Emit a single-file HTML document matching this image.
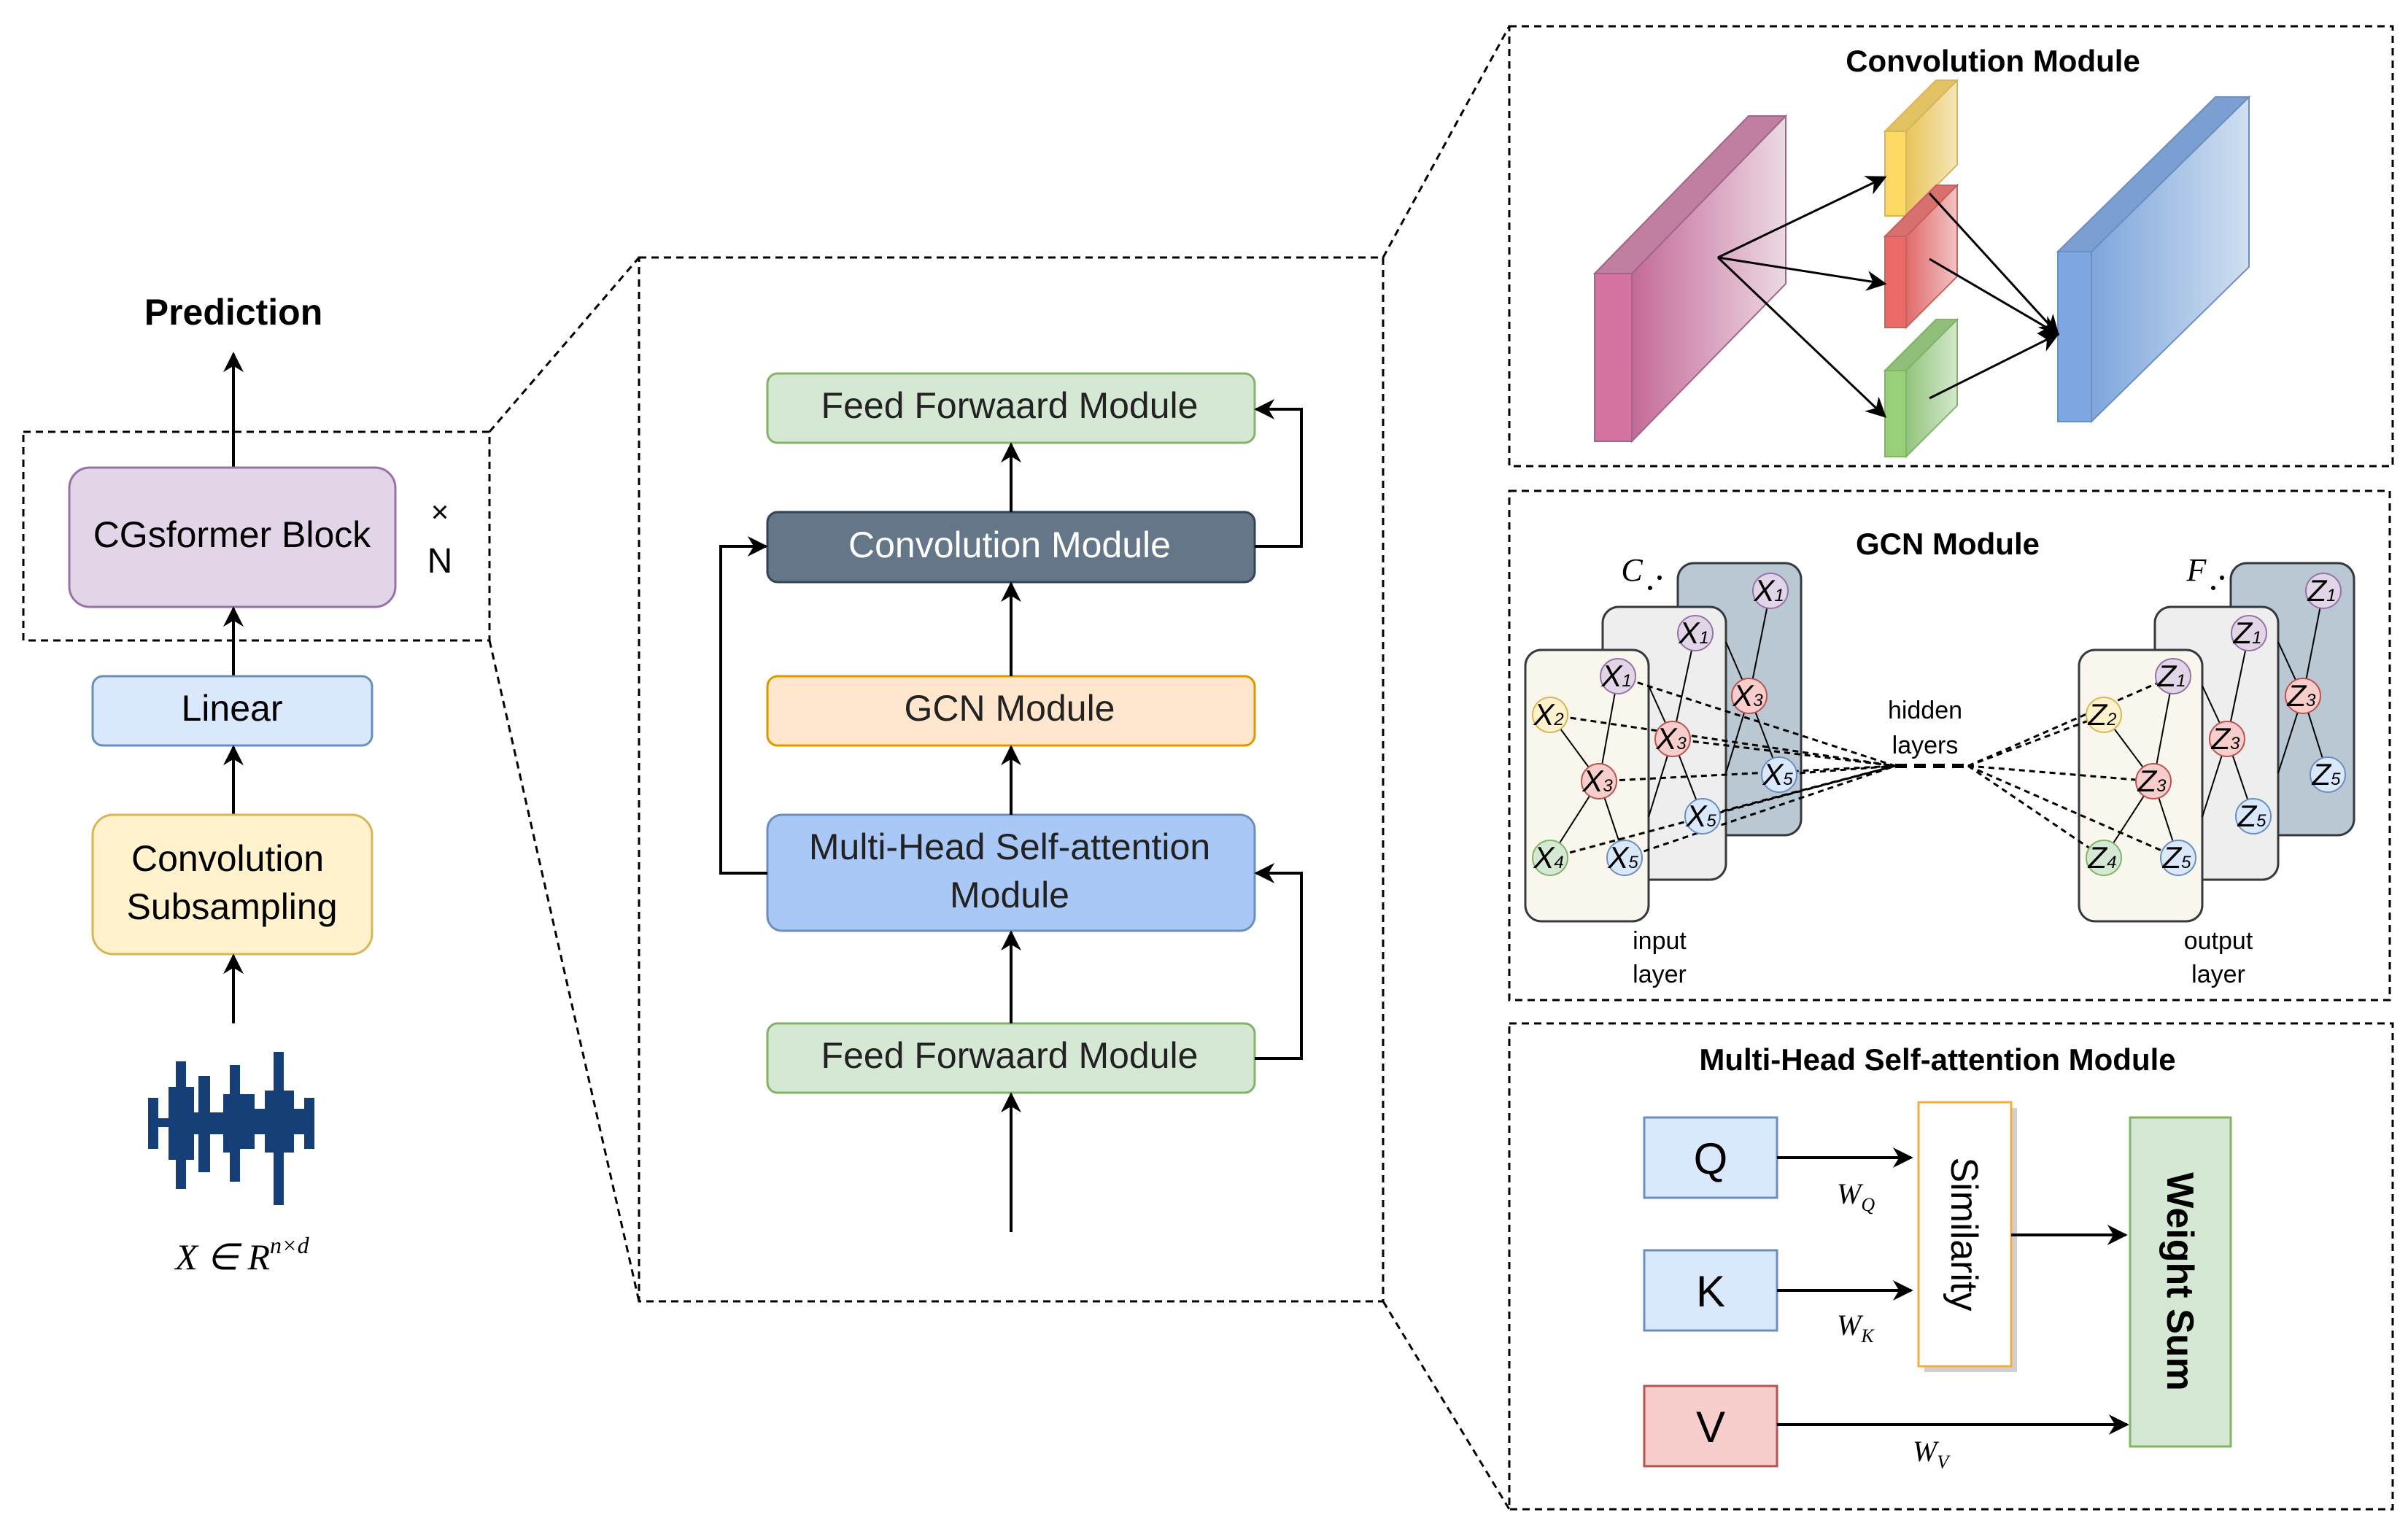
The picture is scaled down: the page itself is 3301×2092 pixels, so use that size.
<!DOCTYPE html>
<html><head><meta charset="utf-8"><style>
html,body{margin:0;padding:0;background:#fff;}
svg{display:block;}
text{font-family:"Liberation Sans",sans-serif;}
.m{font-family:"Liberation Serif",serif;font-style:italic;}
</style></head><body>
<svg width="3301" height="2092" viewBox="0 0 3301 2092" xmlns="http://www.w3.org/2000/svg">
<defs>
<marker id="b" viewBox="0 0 10 10" refX="9" refY="5" markerWidth="28" markerHeight="28" markerUnits="userSpaceOnUse" orient="auto"><path d="M0,0 L10,5 L0,10 L3,5 z" fill="#000"/></marker>
<linearGradient id="gp" x1="0" x2="1"><stop offset="0" stop-color="#c46a98"/><stop offset="1" stop-color="#ecd9e3"/></linearGradient>
<linearGradient id="gy" x1="0" x2="1"><stop offset="0" stop-color="#e8c45a"/><stop offset="1" stop-color="#f5e6b8"/></linearGradient>
<linearGradient id="gr" x1="0" x2="1"><stop offset="0" stop-color="#e06a6a"/><stop offset="1" stop-color="#f2c4c4"/></linearGradient>
<linearGradient id="gg" x1="0" x2="1"><stop offset="0" stop-color="#93c47d"/><stop offset="1" stop-color="#d3e8cc"/></linearGradient>
<linearGradient id="gb" x1="0" x2="1"><stop offset="0" stop-color="#7ea6dc"/><stop offset="1" stop-color="#d0dff0"/></linearGradient>
</defs>

<text x="320" y="445" font-size="50" font-weight="bold" text-anchor="middle">Prediction</text>
<line x1="320" y1="641" x2="320" y2="485" stroke="#000" stroke-width="4" marker-end="url(#b)"/>
<rect x="32" y="592" width="639" height="286" fill="none" stroke="#000" stroke-width="3" stroke-dasharray="10,7"/>
<rect x="95" y="641" width="447" height="191" rx="28" fill="#e1d5e7" stroke="#9673a6" stroke-width="3"/>
<text x="318" y="750" font-size="50" text-anchor="middle">CGsformer Block</text>
<text x="603" y="716" font-size="42" text-anchor="middle">×</text>
<text x="603" y="785" font-size="48" text-anchor="middle">N</text>
<line x1="320" y1="927" x2="320" y2="834" stroke="#000" stroke-width="4" marker-end="url(#b)"/>
<rect x="127" y="927" width="383" height="95" rx="14" fill="#dae8fc" stroke="#6c8ebf" stroke-width="3"/>
<text x="318" y="988" font-size="50" text-anchor="middle">Linear</text>
<line x1="320" y1="1117" x2="320" y2="1024" stroke="#000" stroke-width="4" marker-end="url(#b)"/>
<rect x="127" y="1117" width="383" height="191" rx="28" fill="#fff2cc" stroke="#d6b656" stroke-width="3"/>
<text x="312" y="1194" font-size="50" text-anchor="middle">Convolution</text>
<text x="318" y="1260" font-size="50" text-anchor="middle">Subsampling</text>
<line x1="320" y1="1403" x2="320" y2="1310" stroke="#000" stroke-width="4" marker-end="url(#b)"/>
<g fill="#163f78">
<rect x="203" y="1505" width="14" height="70"/><rect x="217" y="1533" width="14" height="12"/>
<rect x="231" y="1490" width="14" height="100"/><rect x="241" y="1455" width="14" height="175"/><rect x="252" y="1490" width="14" height="100"/>
<rect x="266" y="1525" width="14" height="30"/><rect x="272" y="1475" width="16" height="132"/><rect x="288" y="1525" width="18" height="30"/>
<rect x="306" y="1500" width="14" height="80"/><rect x="315" y="1460" width="14" height="160"/><rect x="329" y="1500" width="20" height="75"/>
<rect x="349" y="1520" width="14" height="35"/><rect x="363" y="1495" width="18" height="85"/><rect x="375" y="1442" width="14" height="210"/><rect x="389" y="1495" width="14" height="85"/>
<rect x="403" y="1520" width="14" height="35"/><rect x="417" y="1505" width="14" height="70"/>
</g>
<text x="332" y="1740" font-size="50" text-anchor="middle" class="m">X ∈ R<tspan font-size="32" dy="-22">n×d</tspan></text>

<line x1="671" y1="592" x2="876" y2="353" stroke="#000" stroke-width="3" stroke-dasharray="10,7"/>
<line x1="671" y1="878" x2="876" y2="1784" stroke="#000" stroke-width="3" stroke-dasharray="10,7"/>
<rect x="876" y="353" width="1020" height="1431" fill="none" stroke="#000" stroke-width="3" stroke-dasharray="10,7"/>
<line x1="1896" y1="353" x2="2069" y2="36" stroke="#000" stroke-width="3" stroke-dasharray="10,7"/>
<line x1="1896" y1="1784" x2="2069" y2="2069" stroke="#000" stroke-width="3" stroke-dasharray="10,7"/>

<rect x="1052" y="512" width="668" height="95" rx="14" fill="#d5e8d4" stroke="#82b366" stroke-width="3"/>
<text x="1384" y="573" font-size="50" text-anchor="middle" fill="#222">Feed Forwaard Module</text>
<rect x="1052" y="702" width="668" height="96" rx="14" fill="#647687" stroke="#314354" stroke-width="3"/>
<text x="1384" y="764" font-size="50" text-anchor="middle" fill="#fff">Convolution Module</text>
<rect x="1052" y="927" width="668" height="95" rx="14" fill="#ffe6cc" stroke="#d79b00" stroke-width="3"/>
<text x="1384" y="988" font-size="50" text-anchor="middle" fill="#222">GCN Module</text>
<rect x="1052" y="1117" width="668" height="159" rx="20" fill="#a9c8f5" stroke="#6c8ebf" stroke-width="3"/>
<text x="1384" y="1178" font-size="50" text-anchor="middle" fill="#222">Multi-Head Self-attention</text>
<text x="1384" y="1244" font-size="50" text-anchor="middle" fill="#222">Module</text>
<rect x="1052" y="1403" width="668" height="95" rx="14" fill="#d5e8d4" stroke="#82b366" stroke-width="3"/>
<text x="1384" y="1464" font-size="50" text-anchor="middle" fill="#222">Feed Forwaard Module</text>
<g stroke="#000" stroke-width="4" fill="none">
<line x1="1386" y1="1689" x2="1386" y2="1500" marker-end="url(#b)"/>
<line x1="1386" y1="1403" x2="1386" y2="1278" marker-end="url(#b)"/>
<line x1="1386" y1="1117" x2="1386" y2="1024" marker-end="url(#b)"/>
<line x1="1386" y1="927" x2="1386" y2="800" marker-end="url(#b)"/>
<line x1="1386" y1="702" x2="1386" y2="609" marker-end="url(#b)"/>
<polyline points="1720,1451 1784,1451 1784,1197 1722,1197" marker-end="url(#b)"/>
<polyline points="1720,749 1784,749 1784,561 1722,561" marker-end="url(#b)"/>
<polyline points="1052,1197 988,1197 988,749 1050,749" marker-end="url(#b)"/>
</g>

<g fill="none" stroke="#000" stroke-width="3" stroke-dasharray="10,7">
<rect x="2069" y="36" width="1211" height="603"/>
<rect x="2069" y="673" width="1207" height="698"/>
<rect x="2069" y="1403" width="1211" height="666"/>
</g>

<text x="2732" y="98" font-size="42" font-weight="bold" text-anchor="middle">Convolution Module</text>
<g stroke-width="2">
<polygon points="2237,375 2448,159 2448,389 2237,605" fill="url(#gp)" stroke="#a0658a"/>
<polygon points="2186,375 2397,159 2448,159 2237,375" fill="#c07fa0" stroke="#a0658a"/>
<rect x="2186" y="375" width="51" height="230" fill="#d4739f" stroke="#a0658a"/>
<polygon points="2613,180 2683,110 2683,226 2613,296" fill="url(#gy)" stroke="#d6b656"/>
<polygon points="2584,180 2654,110 2683,110 2613,180" fill="#e3c264" stroke="#d6b656"/>
<rect x="2584" y="180" width="29" height="116" fill="#ffd966" stroke="#d6b656"/>
<polygon points="2613,324 2683,254 2683,379 2613,449" fill="url(#gr)" stroke="#c86060"/>
<polygon points="2584,324 2654,254 2683,254 2613,324" fill="#d97070" stroke="#c86060"/>
<rect x="2584" y="324" width="29" height="125" fill="#ea6b66" stroke="#c86060"/>
<polygon points="2613,508 2683,438 2683,556 2613,626" fill="url(#gg)" stroke="#82b366"/>
<polygon points="2584,508 2654,438 2683,438 2613,508" fill="#8fbf78" stroke="#82b366"/>
<rect x="2584" y="508" width="29" height="118" fill="#97d077" stroke="#82b366"/>
<polygon points="2867,345 3083,133 3083,366 2867,578" fill="url(#gb)" stroke="#6c8ebf"/>
<polygon points="2821,345 3037,133 3083,133 2867,345" fill="#7a9fd0" stroke="#6c8ebf"/>
<rect x="2821" y="345" width="46" height="233" fill="#7ea6e0" stroke="#6c8ebf"/>
</g>
<g stroke="#000" stroke-width="3">
<line x1="2355" y1="353" x2="2584" y2="243" marker-end="url(#b)"/>
<line x1="2355" y1="353" x2="2584" y2="389" marker-end="url(#b)"/>
<line x1="2355" y1="353" x2="2584" y2="571" marker-end="url(#b)"/>
<line x1="2645" y1="265" x2="2821" y2="458" marker-end="url(#b)"/>
<line x1="2645" y1="355" x2="2821" y2="458" marker-end="url(#b)"/>
<line x1="2645" y1="546" x2="2821" y2="458" marker-end="url(#b)"/>
</g>

<text x="2670" y="760" font-size="42" font-weight="bold" text-anchor="middle">GCN Module</text>
<text x="2237" y="796" font-size="44" class="m" text-anchor="middle">C</text>
<text x="3011" y="796" font-size="44" class="m" text-anchor="middle">F</text>
<g fill="#000"><circle cx="2275" cy="792" r="3"/><circle cx="2262" cy="806" r="3"/><circle cx="3046" cy="792" r="3"/><circle cx="3034" cy="806" r="3"/></g>
<g stroke="#36393d" stroke-width="3">
<rect x="2300" y="772" width="169" height="373" rx="22" fill="#bac8d3"/>
<rect x="2197" y="832" width="169" height="374" rx="22" fill="#eeeeee"/>
<rect x="2091" y="891" width="169" height="372" rx="22" fill="#f9f7ed"/>
<rect x="3058" y="772" width="169" height="373" rx="22" fill="#bac8d3"/>
<rect x="2954" y="832" width="169" height="374" rx="22" fill="#eeeeee"/>
<rect x="2850" y="891" width="169" height="372" rx="22" fill="#f9f7ed"/>
</g>
<g stroke="#000" stroke-width="2">
<line x1="2427" y1="810" x2="2398" y2="954"/><line x1="2398" y1="954" x2="2439" y2="1062"/><line x1="2398" y1="954" x2="2366" y2="1060"/><line x1="2398" y1="954" x2="2366" y2="880"/>
<line x1="2324" y1="868" x2="2293" y2="1013"/><line x1="2293" y1="1013" x2="2334" y2="1119"/><line x1="2293" y1="1013" x2="2260" y2="1120"/><line x1="2293" y1="1013" x2="2260" y2="940"/>
<line x1="2218" y1="927" x2="2192" y2="1071"/><line x1="2125" y1="980" x2="2192" y2="1071"/><line x1="2192" y1="1071" x2="2125" y2="1176"/><line x1="2192" y1="1071" x2="2227" y2="1176"/>
<line x1="3185" y1="810" x2="3157" y2="954"/><line x1="3157" y1="954" x2="3191" y2="1062"/><line x1="3157" y1="954" x2="3123" y2="1060"/><line x1="3157" y1="954" x2="3123" y2="880"/>
<line x1="3083" y1="868" x2="3053" y2="1013"/><line x1="3053" y1="1013" x2="3089" y2="1119"/><line x1="3053" y1="1013" x2="3019" y2="1120"/><line x1="3053" y1="1013" x2="3019" y2="940"/>
<line x1="2979" y1="927" x2="2952" y2="1071"/><line x1="2884" y1="980" x2="2952" y2="1071"/><line x1="2952" y1="1071" x2="2884" y2="1176"/><line x1="2952" y1="1071" x2="2986" y2="1176"/>
</g>
<g stroke="#000" stroke-width="3" stroke-dasharray="8,6" fill="none">
<line x1="2218" y1="927" x2="2598" y2="1050"/><line x1="2125" y1="980" x2="2598" y2="1050"/><line x1="2192" y1="1071" x2="2598" y2="1050"/>
<line x1="2125" y1="1176" x2="2598" y2="1050"/><line x1="2227" y1="1176" x2="2598" y2="1050"/><line x1="2293" y1="1013" x2="2598" y2="1050"/>
<line x1="2334" y1="1119" x2="2598" y2="1050"/><line x1="2439" y1="1062" x2="2598" y2="1050"/>
<line x1="2698" y1="1050" x2="2979" y2="927"/><line x1="2698" y1="1050" x2="2884" y2="980"/><line x1="2698" y1="1050" x2="2952" y2="1071"/>
<line x1="2698" y1="1050" x2="2884" y2="1176"/><line x1="2698" y1="1050" x2="2986" y2="1176"/>
</g>
<line x1="2598" y1="1050" x2="2698" y2="1050" stroke="#000" stroke-width="6" stroke-dasharray="16,10"/>
<text x="2639" y="985" font-size="34" text-anchor="middle">hidden</text>
<text x="2639" y="1033" font-size="34" text-anchor="middle">layers</text>
<text x="2275" y="1301" font-size="34" text-anchor="middle">input</text>
<text x="2275" y="1347" font-size="34" text-anchor="middle">layer</text>
<text x="3041" y="1301" font-size="34" text-anchor="middle">output</text>
<text x="3041" y="1347" font-size="34" text-anchor="middle">layer</text>
<g stroke-width="2">
<g stroke="#9673a6" fill="#e1d5e7"><circle cx="2427" cy="810" r="24"/><circle cx="2324" cy="868" r="24"/><circle cx="2218" cy="927" r="24"/><circle cx="3185" cy="810" r="24"/><circle cx="3083" cy="868" r="24"/><circle cx="2979" cy="927" r="24"/></g>
<g stroke="#d6b656" fill="#fff2cc"><circle cx="2125" cy="980" r="24"/><circle cx="2884" cy="980" r="24"/></g>
<g stroke="#b85450" fill="#f8cecc"><circle cx="2398" cy="954" r="24"/><circle cx="2293" cy="1013" r="24"/><circle cx="2192" cy="1071" r="24"/><circle cx="3157" cy="954" r="24"/><circle cx="3053" cy="1013" r="24"/><circle cx="2952" cy="1071" r="24"/></g>
<g stroke="#82b366" fill="#d5e8d4"><circle cx="2125" cy="1176" r="24"/><circle cx="2884" cy="1176" r="24"/></g>
<g stroke="#6c8ebf" fill="#dae8fc"><circle cx="2439" cy="1062" r="24"/><circle cx="2334" cy="1119" r="24"/><circle cx="2227" cy="1176" r="24"/><circle cx="3191" cy="1062" r="24"/><circle cx="3089" cy="1119" r="24"/><circle cx="2986" cy="1176" r="24"/></g>
</g>
<g class="m" font-size="42" text-anchor="middle">
<text x="2425" y="824">X<tspan font-size="24">1</tspan></text><text x="2322" y="882">X<tspan font-size="24">1</tspan></text><text x="2216" y="941">X<tspan font-size="24">1</tspan></text>
<text x="2123" y="994">X<tspan font-size="24">2</tspan></text>
<text x="2396" y="968">X<tspan font-size="24">3</tspan></text><text x="2291" y="1027">X<tspan font-size="24">3</tspan></text><text x="2190" y="1085">X<tspan font-size="24">3</tspan></text>
<text x="2123" y="1190">X<tspan font-size="24">4</tspan></text>
<text x="2437" y="1076">X<tspan font-size="24">5</tspan></text><text x="2332" y="1133">X<tspan font-size="24">5</tspan></text><text x="2225" y="1190">X<tspan font-size="24">5</tspan></text>
<text x="3183" y="824">Z<tspan font-size="24">1</tspan></text><text x="3081" y="882">Z<tspan font-size="24">1</tspan></text><text x="2977" y="941">Z<tspan font-size="24">1</tspan></text>
<text x="2882" y="994">Z<tspan font-size="24">2</tspan></text>
<text x="3155" y="968">Z<tspan font-size="24">3</tspan></text><text x="3051" y="1027">Z<tspan font-size="24">3</tspan></text><text x="2950" y="1085">Z<tspan font-size="24">3</tspan></text>
<text x="2882" y="1190">Z<tspan font-size="24">4</tspan></text>
<text x="3189" y="1076">Z<tspan font-size="24">5</tspan></text><text x="3087" y="1133">Z<tspan font-size="24">5</tspan></text><text x="2984" y="1190">Z<tspan font-size="24">5</tspan></text>
</g>

<text x="2656" y="1467" font-size="42" font-weight="bold" text-anchor="middle">Multi-Head Self-attention Module</text>
<rect x="2254" y="1532" width="182" height="110" fill="#dae8fc" stroke="#6c8ebf" stroke-width="3"/>
<text x="2345" y="1609" font-size="60" text-anchor="middle">Q</text>
<rect x="2254" y="1714" width="182" height="110" fill="#dae8fc" stroke="#6c8ebf" stroke-width="3"/>
<text x="2345" y="1791" font-size="60" text-anchor="middle">K</text>
<rect x="2254" y="1900" width="182" height="110" fill="#f8cecc" stroke="#b85450" stroke-width="3"/>
<text x="2345" y="1977" font-size="60" text-anchor="middle">V</text>
<rect x="2638" y="1519" width="127" height="362" fill="#d0d0d0"/>
<rect x="2630" y="1511" width="127" height="362" fill="#fff" stroke="#f0b040" stroke-width="3"/>
<text transform="translate(2693,1692) rotate(90)" font-size="52" text-anchor="middle" dy="18">Similarity</text>
<rect x="2920" y="1532" width="138" height="451" fill="#d5e8d4" stroke="#82b366" stroke-width="3"/>
<text transform="translate(2989,1757) rotate(90)" font-size="52" font-weight="bold" text-anchor="middle" dy="18">Weight Sum</text>
<g stroke="#000" stroke-width="4">
<line x1="2436" y1="1587" x2="2620" y2="1587" marker-end="url(#b)"/>
<line x1="2436" y1="1769" x2="2620" y2="1769" marker-end="url(#b)"/>
<line x1="2436" y1="1953" x2="2916" y2="1953" marker-end="url(#b)"/>
<line x1="2757" y1="1693" x2="2914" y2="1693" marker-end="url(#b)"/>
</g>
<text x="2518" y="1650" font-size="40" class="m">W<tspan font-size="26" dy="10">Q</tspan></text>
<text x="2518" y="1830" font-size="40" class="m">W<tspan font-size="26" dy="10">K</tspan></text>
<text x="2622" y="2003" font-size="40" class="m">W<tspan font-size="26" dy="10">V</tspan></text>
</svg>
</body></html>
